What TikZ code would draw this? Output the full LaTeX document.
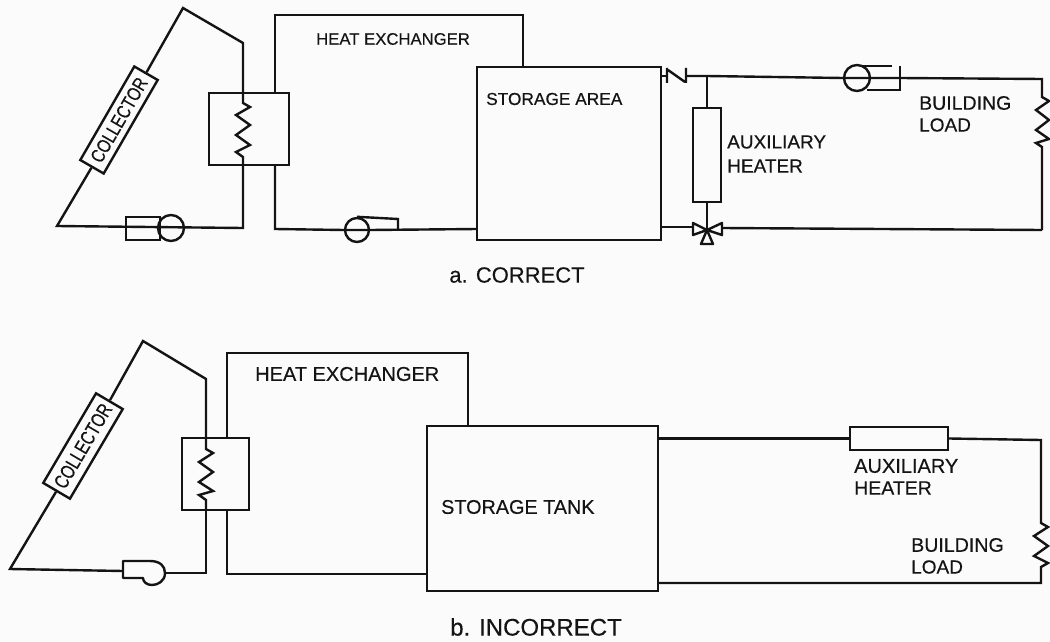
\documentclass[tikz,border=0pt]{standalone}
\usepackage{fontspec}
\setmainfont{Liberation Sans}[FakeBold=0.35]
\definecolor{paper}{HTML}{FBFBFB}
\definecolor{ink}{HTML}{141414}
\tikzset{
  wire/.style={draw=ink,line width=2.4pt,line join=miter},
  part/.style={draw=ink,line width=2.4pt,fill=none,inner sep=0pt},
  lab/.style={font=\fontsize{#1}{22}\selectfont,inner sep=0pt,anchor=west,text=ink},
  collbox/.style={part,font=\fontsize{15.5}{18}\selectfont,text=ink},
  captxt/.style={font=\fontsize{#1}{28}\selectfont,inner sep=0pt,text=ink},
  pumpc/.style={draw=ink,line width=2.4pt,circle,inner sep=0pt,minimum size=#1}
}
\begin{document}
\begin{tikzpicture}[x=1pt,y=-1pt]
\path[fill=paper] (0,0) rectangle (1050,642);
\useasboundingbox (0,0) rectangle (1050,642);
% ---------- a. CORRECT
\node[collbox,minimum width=108,minimum height=27,rotate=60] (colA) at (119,120) {\scalebox{1}[1.25]{COLLECTOR}};
\node[part,minimum width=80,minimum height=72] (hxA) at (249,129) {};
\node[part,minimum width=184,minimum height=173] (stA) at (569,153.5) {};
\node[part,minimum width=28,minimum height=94] (aux) at (707,155) {};
\node[pumpc=26] (pumpA) at (171,228) {};
\node[pumpc=24] (pumpB) at (357,230) {};
\node[pumpc=26] (pumpC) at (857,78) {};
\coordinate (a1) at (57,226);
\coordinate (a2) at (183,8);
\coordinate (a3) at (243,43);
\coordinate (a4) at (243,93);
\coordinate (a5) at (243,165);
\coordinate (a6) at (243,228);
\coordinate (b1) at (275,93);
\coordinate (b2) at (275,15);
\coordinate (b3) at (523,15);
\coordinate (b4) at (523,67);
\coordinate (b5) at (275,165);
\coordinate (b6) at (275,229);
\coordinate (b7) at (477,229);
\coordinate (v1) at (661,76);
\coordinate (v2) at (667,76);
\coordinate (v3) at (686,76);
\coordinate (j1) at (707,76);
\coordinate (r1) at (1042,79);
\coordinate (r2) at (1042,230);
\coordinate (t1) at (661,227);
\coordinate (t0) at (707,230);
% collector loop
\draw[wire] (colA.west) -- (a1) -- (a6) -- (a5);
\draw[wire] (colA.east) -- (a2) -- (a3) -- (a4);
\draw[wire] (a4) -- (243,103) -- (250,107) -- (236,115) -- (250,125) -- (236,135) -- (250,145) -- (236,152) -- (243,157) -- (a5);
\draw[wire] (126,217) rectangle (160,240);
% storage loop
\draw[wire] (b1) -- (b2) -- (b3) -- (b4);
\draw[wire] (b5) -- (b6) -- (pumpB.west) -- (pumpB.east) -- (b7);
\draw[wire] (pumpB.north) -- (398,219) -- (398,230);
% load loop
\draw[wire] (v1) -- (v2);
\draw[wire] (667,68) -- (667,83) (668,70) -- (685,82) (686,68) -- (686,83);
\draw[wire] (v3) -- (j1) -- (pumpC.west) -- (pumpC.east) -- (900,78) -- (r1) -- (1042,97) -- (1049,101) -- (1036,110) -- (1049,120) -- (1036,130) -- (1049,139) -- (1036,143) -- (1042,147) -- (r2);
\draw[wire] (860,66) -- (892,66) (900,66) -- (900,90) -- (867,90);
\draw[wire] (j1) -- (aux.north);
\draw[wire] (aux.south) -- (t0);
% three-way valve
\draw[wire] (t1) -- (693,227);
\draw[wire,line join=round] (t0) -- (693,223) -- (693,235) -- cycle;
\draw[wire,line join=round] (t0) -- (722,223) -- (722,235) -- cycle;
\draw[wire,line join=round] (t0) -- (701,244) -- (713,244) -- cycle;
\draw[wire] (722,228) -- (r2);
% labels a
\node[lab=16.7] (l1) at (316,39) {HEAT EXCHANGER};
\node[lab=17.3] (l2) at (486,99) {STORAGE AREA};
\node[lab=19] (l3) at (727,142) {AUXILIARY};
\node[lab=19] (l4) at (727,166) {HEATER};
\node[lab=19.5] (l5) at (919,103) {BUILDING};
\node[lab=19] (l6) at (919,125) {LOAD};
\node[captxt=22] (capA) at (517,275) {a. CORRECT};
% ---------- b. INCORRECT
\node[collbox,minimum width=104,minimum height=31,rotate=59.5] (colB) at (83,446) {\scalebox{1}[1.3]{COLLECTOR}};
\node[part,minimum width=67,minimum height=72] (hxB) at (215.5,474) {};
\node[part,minimum width=231,minimum height=165] (stB) at (542.5,508.5) {};
\node[part,minimum width=98,minimum height=23] (auxB) at (899,438.5) {};
\coordinate (c1) at (10,569);
\coordinate (c2) at (143,341);
\coordinate (c3) at (206,379);
\coordinate (c4) at (206,438);
\coordinate (c5) at (206,510);
\coordinate (c6) at (206,573);
\coordinate (c7) at (165,573);
\coordinate (c8) at (123,571);
\coordinate (d1) at (227,438);
\coordinate (d2) at (227,353);
\coordinate (d3) at (468,353);
\coordinate (d4) at (468,426);
\coordinate (d5) at (227,510);
\coordinate (d6) at (227,574);
\coordinate (d7) at (427,574);
\coordinate (e1) at (658,438.5);
\coordinate (e2) at (1041,440);
\coordinate (e3) at (1041,583);
\coordinate (e4) at (658,583);
\draw[wire] (colB.west) -- (c1) -- (c8);
\draw[wire] (colB.east) -- (c2) -- (c3) -- (c4);
\draw[wire] (c4) -- (206,449) -- (213,453) -- (199,462) -- (213,472) -- (199,482) -- (213,491) -- (199,495) -- (206,500) -- (c5);
\draw[wire] (c5) -- (c6) -- (c7);
\draw[wire] (d1) -- (d2) -- (d3) -- (d4);
\draw[wire] (d5) -- (d6) -- (d7);
\draw[wire,line join=round] (123,561) -- (150,561) .. controls (160,561) and (165,566) .. (165,573) .. controls (165,581) and (158,585) .. (152,585) .. controls (147,585) and (143,582) .. (143,578) -- (123,578) -- cycle;
\draw[wire] (e1) -- (auxB.west);
\draw[wire] (auxB.east) -- (e2) -- (1041,523) -- (1048,527) -- (1034,536) -- (1048,546) -- (1034,556) -- (1048,563) -- (1041,567) -- (e3) -- (e4);
\node[lab=20] (m1) at (255,374) {HEAT EXCHANGER};
\node[lab=19.8] (m2) at (441,507) {STORAGE TANK};
\node[lab=20] (m3) at (854,466) {AUXILIARY};
\node[lab=19.5] (m4) at (854,488) {HEATER};
\node[lab=19.6] (m5) at (911,545) {BUILDING};
\node[lab=19] (m6) at (911,567) {LOAD};
\node[captxt=24] (capB) at (536,627) {b. INCORRECT};
\end{tikzpicture}
\end{document}
